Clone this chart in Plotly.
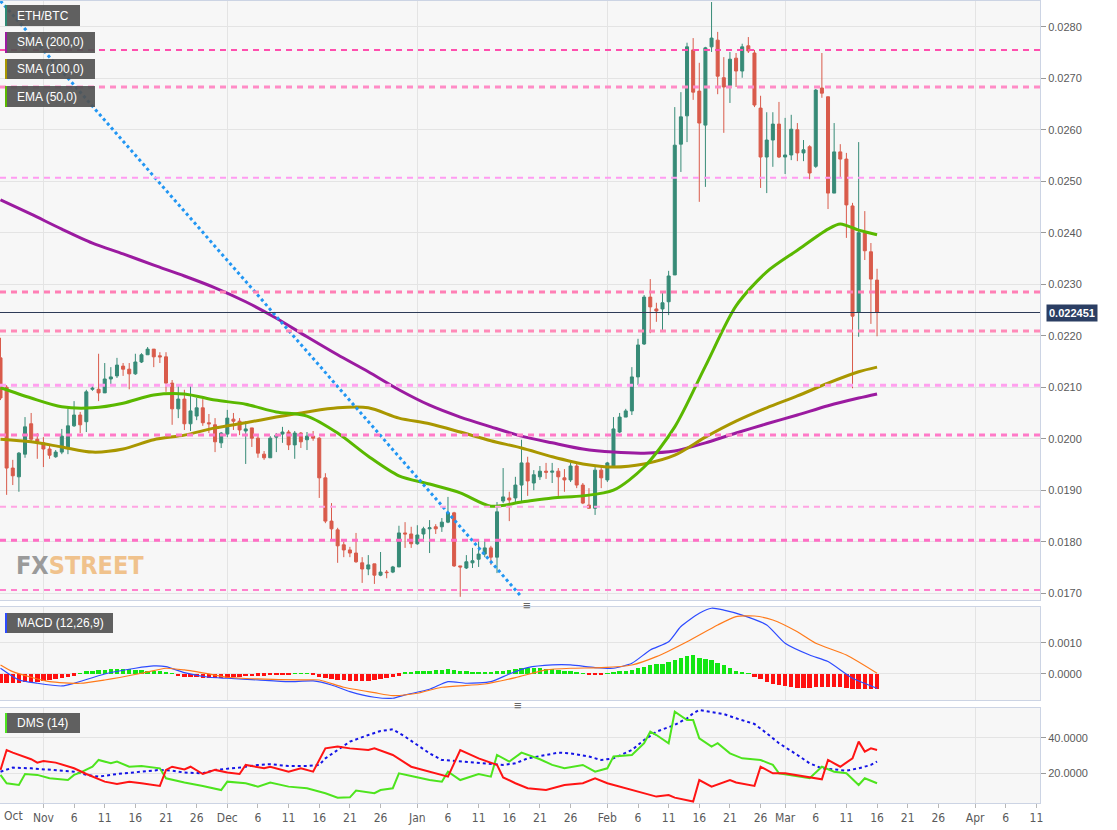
import pandas as pd
import plotly.graph_objects as go
from plotly.subplots import make_subplots

# ---------------------------------------------------------------
# Données ETH/BTC journalières (25 oct. 2019 -> 16 mars 2020)
# ---------------------------------------------------------------
dates = pd.date_range("2019-10-25", periods=144, freq="D")

open_ = [
    0.02157, 0.02100, 0.01943, 0.01926, 0.01970, 0.02029, 0.01999, 0.01992, 0.01980, 0.01965,
    0.01974, 0.01982, 0.02025, 0.02046, 0.02033, 0.02096, 0.02096, 0.02089, 0.02116, 0.02122,
    0.02141, 0.02135, 0.02126, 0.02149, 0.02163, 0.02174, 0.02161, 0.02159, 0.02108, 0.02058,
    0.02077, 0.02029, 0.02044, 0.02060, 0.02031, 0.02027, 0.01992, 0.02009, 0.02038, 0.02034,
    0.02015, 0.02021, 0.02001, 0.01970, 0.01963, 0.02003, 0.02009, 0.02013, 0.01988, 0.02011,
    0.01998, 0.02005, 0.02001, 0.01924, 0.01840, 0.01823, 0.01794, 0.01784, 0.01778, 0.01759,
    0.01747, 0.01757, 0.01735, 0.01741, 0.01741, 0.01751, 0.01817, 0.01815, 0.01796, 0.01815,
    0.01825, 0.01829, 0.01829, 0.01838, 0.01856, 0.01753, 0.01749, 0.01759, 0.01766, 0.01776,
    0.01788, 0.01770, 0.01879, 0.01885, 0.01885, 0.01910, 0.01953, 0.01914, 0.01926, 0.01937,
    0.01935, 0.01937, 0.01924, 0.01920, 0.01947, 0.01910, 0.01871, 0.01865, 0.01939, 0.01920,
    0.01947, 0.02013, 0.02042, 0.02054, 0.02120, 0.02184, 0.02275, 0.02252, 0.02252, 0.02266,
    0.02318, 0.02572, 0.02627, 0.02755, 0.02675, 0.02609, 0.02761, 0.02774, 0.02701, 0.02683,
    0.02739, 0.02714, 0.02763, 0.02749, 0.02642, 0.02547, 0.02580, 0.02611, 0.02547, 0.02551,
    0.02600, 0.02555, 0.02567, 0.02529, 0.02681, 0.02664, 0.02477, 0.02557, 0.02543, 0.02452,
    0.02246, 0.02400, 0.02363, 0.02308,
]
high = [
    0.02196, 0.02104, 0.01959, 0.01974, 0.02042, 0.02050, 0.02011, 0.02003, 0.01990, 0.01978,
    0.02019, 0.02058, 0.02073, 0.02052, 0.02095, 0.02104, 0.02165, 0.02147, 0.02139, 0.02157,
    0.02147, 0.02147, 0.02165, 0.02166, 0.02178, 0.02174, 0.02168, 0.02168, 0.02114, 0.02104,
    0.02095, 0.02106, 0.02079, 0.02077, 0.02048, 0.02040, 0.02013, 0.02056, 0.02050, 0.02040,
    0.02034, 0.02021, 0.02007, 0.01976, 0.02005, 0.02011, 0.02023, 0.02017, 0.02015, 0.02013,
    0.02013, 0.02015, 0.02003, 0.01933, 0.01875, 0.01827, 0.01800, 0.01790, 0.01817, 0.01770,
    0.01774, 0.01757, 0.01780, 0.01745, 0.01753, 0.01831, 0.01838, 0.01829, 0.01832, 0.01829,
    0.01842, 0.01834, 0.01846, 0.01887, 0.01858, 0.01753, 0.01774, 0.01788, 0.01805, 0.01803,
    0.01792, 0.01877, 0.01943, 0.01897, 0.01926, 0.01998, 0.01965, 0.01939, 0.01947, 0.01953,
    0.01953, 0.01943, 0.01941, 0.01953, 0.01951, 0.01914, 0.01904, 0.01945, 0.01945, 0.01955,
    0.02042, 0.02050, 0.02058, 0.02139, 0.02194, 0.02279, 0.02310, 0.02264, 0.02283, 0.02326,
    0.02644, 0.02673, 0.02769, 0.02778, 0.02730, 0.02761, 0.02848, 0.02790, 0.02741, 0.02751,
    0.02749, 0.02767, 0.02780, 0.02755, 0.02666, 0.02634, 0.02634, 0.02654, 0.02623, 0.02629,
    0.02613, 0.02580, 0.02570, 0.02679, 0.02749, 0.02664, 0.02613, 0.02572, 0.02555, 0.02458,
    0.02576, 0.02442, 0.02380, 0.02330,
]
low = [
    0.02075, 0.01891, 0.01910, 0.01897, 0.01963, 0.01992, 0.01961, 0.01945, 0.01961, 0.01963,
    0.01970, 0.01970, 0.02023, 0.02011, 0.02013, 0.02093, 0.02073, 0.02089, 0.02104, 0.02118,
    0.02122, 0.02096, 0.02124, 0.02147, 0.02163, 0.02139, 0.02147, 0.02091, 0.02027, 0.02040,
    0.02017, 0.02015, 0.02036, 0.02025, 0.02011, 0.01974, 0.01982, 0.02003, 0.02017, 0.02007,
    0.01951, 0.01984, 0.01963, 0.01959, 0.01963, 0.01974, 0.01992, 0.01978, 0.01961, 0.01982,
    0.01978, 0.01996, 0.01885, 0.01836, 0.01803, 0.01759, 0.01770, 0.01770, 0.01759, 0.01720,
    0.01735, 0.01718, 0.01733, 0.01729, 0.01739, 0.01751, 0.01788, 0.01788, 0.01794, 0.01800,
    0.01778, 0.01815, 0.01819, 0.01836, 0.01751, 0.01693, 0.01747, 0.01749, 0.01751, 0.01770,
    0.01755, 0.01739, 0.01875, 0.01840, 0.01877, 0.01877, 0.01889, 0.01900, 0.01920, 0.01922,
    0.01914, 0.01887, 0.01897, 0.01916, 0.01904, 0.01873, 0.01865, 0.01852, 0.01904, 0.01916,
    0.01945, 0.02011, 0.02042, 0.02046, 0.02104, 0.02182, 0.02205, 0.02227, 0.02211, 0.02240,
    0.02318, 0.02518, 0.02576, 0.02658, 0.02460, 0.02489, 0.02751, 0.02669, 0.02594, 0.02652,
    0.02683, 0.02701, 0.02749, 0.02644, 0.02487, 0.02477, 0.02528, 0.02545, 0.02514, 0.02541,
    0.02539, 0.02539, 0.02504, 0.02526, 0.02662, 0.02446, 0.02477, 0.02506, 0.02390, 0.02098,
    0.02198, 0.02347, 0.02223, 0.02199,
]
close = [
    0.02079, 0.01943, 0.01928, 0.01972, 0.02023, 0.01999, 0.01994, 0.01980, 0.01968, 0.01974,
    0.02005, 0.02025, 0.02046, 0.02027, 0.02091, 0.02098, 0.02089, 0.02116, 0.02120, 0.02143,
    0.02135, 0.02126, 0.02149, 0.02163, 0.02174, 0.02159, 0.02159, 0.02108, 0.02058, 0.02077,
    0.02029, 0.02054, 0.02060, 0.02031, 0.02029, 0.01994, 0.02011, 0.02040, 0.02034, 0.02017,
    0.02019, 0.02001, 0.01972, 0.01963, 0.02001, 0.02007, 0.02013, 0.01988, 0.02011, 0.01994,
    0.02005, 0.02001, 0.01924, 0.01840, 0.01825, 0.01792, 0.01784, 0.01778, 0.01761, 0.01747,
    0.01755, 0.01735, 0.01741, 0.01740, 0.01751, 0.01817, 0.01815, 0.01796, 0.01813, 0.01825,
    0.01827, 0.01825, 0.01838, 0.01856, 0.01753, 0.01751, 0.01761, 0.01763, 0.01776, 0.01788,
    0.01770, 0.01858, 0.01887, 0.01881, 0.01910, 0.01953, 0.01918, 0.01930, 0.01937, 0.01935,
    0.01937, 0.01926, 0.01920, 0.01947, 0.01910, 0.01875, 0.01865, 0.01939, 0.01924, 0.01953,
    0.02019, 0.02042, 0.02054, 0.02120, 0.02182, 0.02275, 0.02256, 0.02248, 0.02264, 0.02316,
    0.02570, 0.02625, 0.02761, 0.02673, 0.02613, 0.02759, 0.02778, 0.02704, 0.02683, 0.02737,
    0.02714, 0.02761, 0.02753, 0.02648, 0.02547, 0.02580, 0.02611, 0.02547, 0.02551, 0.02601,
    0.02555, 0.02561, 0.02516, 0.02677, 0.02671, 0.02477, 0.02557, 0.02543, 0.02454, 0.02238,
    0.02400, 0.02365, 0.02310, 0.022451,
]
last_price = 0.022451

# Moyennes mobiles (index de jour)
ma_idx = [0, 5, 10, 15, 20, 25, 30, 35, 40, 45, 50, 55, 60, 65, 70, 75, 80, 85, 90, 95,
          100, 105, 110, 115, 120, 125, 130, 135, 140, 143]
sma200 = [0.02464, 0.02436, 0.02407, 0.02380, 0.02359, 0.02337, 0.02316, 0.02293, 0.02266, 0.02234,
          0.02198, 0.02163, 0.02130, 0.02095, 0.02065, 0.02042, 0.02023, 0.02005, 0.01992, 0.01980,
          0.01974, 0.01972, 0.01976, 0.01992, 0.02011, 0.02029, 0.02046, 0.02064, 0.02079, 0.02087]
sma100 = [0.01999, 0.01994, 0.01984, 0.01974, 0.01980, 0.01998, 0.02007, 0.02021, 0.02031, 0.02042,
          0.02052, 0.02060, 0.02060, 0.02040, 0.02029, 0.02013, 0.01996, 0.01982, 0.01965, 0.01951,
          0.01945, 0.01951, 0.01968, 0.02003, 0.02034, 0.02060, 0.02083, 0.02108, 0.02130, 0.02139]
ema_idx = [0, 5, 10, 15, 20, 25, 30, 35, 40, 45, 50, 55, 60, 65, 70, 75, 80, 85, 90, 95,
           100, 105, 110, 115, 120, 125, 130, 135, 137, 140, 143]
ema50 = [0.02099, 0.02079, 0.02062, 0.02060, 0.02069, 0.02085, 0.02087, 0.02075, 0.02067, 0.02052,
         0.02044, 0.02011, 0.01966, 0.01928, 0.01912, 0.01895, 0.01869, 0.01877, 0.01885, 0.01889,
         0.01900, 0.01945, 0.02023, 0.02141, 0.02258, 0.02324, 0.02366, 0.02407, 0.02417, 0.02405,
         0.02396]

# Ligne de tendance (pointillés bleus)
trend_dates = ["2019-10-25", "2020-01-18"]
trend_vals = [0.02850, 0.01693]

# Niveaux horizontaux (support / résistance)
levels = [0.02755, 0.02683, 0.02507, 0.02285, 0.02209, 0.02104, 0.02007, 0.01868, 0.01803, 0.01706]
level_colors = ["#ff4fae", "#ff8cc6", "#ff9cf2", "#ff7fb5", "#ff8ab8",
                "#ffa0ee", "#ff7ac8", "#ffa5e3", "#ff6ec5", "#ff80cc"]
level_widths = [2, 3, 2, 3, 3, 3, 3, 2, 3, 2]

# MACD (12,26,9)
macd_idx = [0, 3, 6, 10, 12, 17, 22, 25, 27, 30, 34, 37, 42, 47, 51, 54, 57, 61, 64, 66, 70, 73,
            76, 80, 83, 86, 90, 93, 97, 100, 103, 106, 109, 111, 114, 116, 118, 121, 125, 128,
            132, 135, 139, 143]
macd_line = [1.84e-4, -1.94e-4, -3.0e-4, -3.87e-4, -3.0e-4, 0.0, 1.84e-4, 2.58e-4, 2.35e-4, 0.42e-4,
             -1.06e-4, -1.39e-4, -1.94e-4, -2.48e-4, -2.26e-4, -3.55e-4, -5.71e-4, -7.52e-4,
             -7.84e-4, -6.77e-4, -4.94e-4, -2.48e-4, -3.0e-4, -2.48e-4, 0.0, 2.03e-4, 2.9e-4,
             2.9e-4, 2.03e-4, 1.84e-4, 3.45e-4, 7.74e-4, 10.4e-4, 15.3e-4, 19.6e-4, 21.2e-4,
             20.6e-4, 19.0e-4, 15.8e-4, 9.9e-4, 6.1e-4, 4.0e-4, -1.39e-4, -4.61e-4]
signal_idx = [0, 2, 5, 8, 13, 17, 23, 27, 30, 34, 37, 42, 49, 52, 56, 61, 64, 68, 72, 79, 84, 89,
              93, 98, 103, 107, 112, 117, 120, 123, 126, 130, 133, 138, 143]
signal_line = [2.9e-4, 0.74e-4, -1.06e-4, -2.48e-4, -3.0e-4, -1.94e-4, 0.23e-4, 1.84e-4, 1.29e-4,
               0.0, -1.06e-4, -1.61e-4, -1.94e-4, -1.94e-4, -4.29e-4, -6.03e-4, -7.0e-4,
               -6.23e-4, -4.29e-4, -3.23e-4, -1.19e-4, 1.29e-4, 1.84e-4, 2.03e-4, 2.9e-4, 5.58e-4,
               10.4e-4, 15.8e-4, 18.5e-4, 18.7e-4, 17.4e-4, 13.6e-4, 9.9e-4, 6.1e-4, 0.23e-4]
# histogramme, en unités de 1e-4
hist_e4 = [
    -2.8, -2.8, -2.8, -2.8, -2.7, -2.6, -2.5, -2.3, -2.0, -1.7, -1.4, -1.0, -0.6,
    0.3, 0.8, 1.0, 1.2, 1.4, 1.5, 1.6, 1.6, 1.5, 1.4, 1.3, 1.1, 1.0, 0.9, 0.6, 0.3,
    -0.8, -0.9, -1.0, -1.1, -1.2, -1.2, -1.3, -1.3, -1.2, -1.1, -1.0, -0.8, -0.7, -0.6, -0.5,
    -0.4, -0.3, -0.2, -0.1,
    0.1, 0.2, 0.1,
    -0.2, -1.0, -1.4, -1.7, -1.9, -2.1, -2.3, -2.4, -2.4, -2.3, -2.0, -1.6, -1.2, -0.9, -0.5,
    0.4, 0.6, 0.8, 1.0, 1.1, 1.2, 1.3, 1.5, 1.2, 1.0, 0.8, 0.7, 0.6, 0.5, 0.5, 0.8, 1.0, 1.3,
    1.6, 1.8, 2.0, 1.9, 1.8, 1.6, 1.5, 1.3, 1.0, 0.8, 0.5, 0.2,
    -0.3, -0.3, -0.2,
    0.2, 0.6, 0.8, 1.0, 1.2, 1.8, 2.4, 2.9, 3.1, 3.3, 3.8, 4.4, 5.0, 5.8, 6.2, 5.0, 4.7, 4.4,
    3.5, 2.8, 1.8, 1.0, 0.5, 0.1,
    -1.0, -1.6, -2.7, -3.2, -3.7, -4.0, -4.3, -4.5, -4.5, -4.5, -4.3, -4.1, -4.1, -4.1, -4.2,
    -4.4, -4.8, -4.8, -4.7, -4.8, -4.8,
]

# DMS (14)
plus_idx = [0, 1, 3, 4, 6, 8, 11, 12, 13, 15, 16, 18, 19, 21, 23, 26, 27, 30, 33, 36, 37, 40, 42,
            44, 47, 50, 53, 55, 57, 58, 61, 62, 64, 65, 67, 70, 72, 73, 75, 78, 80, 81, 83, 85, 88,
            90, 92, 95, 97, 99, 100, 103, 105, 106, 107, 109, 110, 112, 113, 114, 116, 117, 119,
            121, 124, 126, 127, 130, 132, 134, 136, 138, 140, 141, 143]
plus_di = [19.1, 14.4, 13.4, 19.6, 19.1, 17.2, 16.2, 19.1, 20.4, 23.7, 27.5, 25.6, 26.6, 23.7, 24.1,
           22.8, 17.2, 14.8, 12.9, 10.6, 15.3, 14.4, 12.5, 14.8, 12.5, 11.6, 8.8, 6.3, 6.5, 10.3,
           8.8, 10.6, 11.6, 20.0, 18.5, 16.2, 15.3, 20.9, 16.2, 19.6, 18.1, 30.3, 26.6, 31.6, 27.9,
           24.7, 22.8, 24.7, 20.9, 22.8, 29.4, 30.3, 36.9, 43.4, 41.5, 36.9, 54.6, 49.9, 49.9, 39.7,
           35.0, 36.9, 31.2, 28.4, 27.5, 24.7, 20.0, 18.1, 17.2, 23.7, 20.9, 20.0, 13.4, 17.2, 14.4]
minus_idx = [0, 1, 2, 5, 6, 7, 9, 12, 14, 17, 19, 21, 23, 26, 27, 28, 30, 31, 33, 35, 37, 39, 40,
             43, 44, 47, 49, 51, 53, 55, 57, 60, 61, 64, 67, 70, 73, 75, 78, 81, 82, 84, 86, 89, 92,
             95, 97, 99, 102, 105, 107, 109, 110, 113, 114, 116, 119, 120, 123, 124, 126, 128, 132,
             134, 135, 137, 139, 140, 141, 142, 143]
minus_di = [21.9, 33.1, 31.6, 27.9, 26.0, 26.9, 26.0, 22.8, 19.6, 15.3, 14.0, 15.3, 14.4, 12.9, 21.9,
            23.7, 22.2, 23.7, 19.6, 21.9, 20.4, 19.6, 24.7, 22.8, 23.7, 20.9, 22.8, 20.9, 34.0, 35.0,
            34.0, 33.1, 34.0, 30.3, 23.7, 20.9, 18.1, 33.1, 28.4, 24.7, 17.7, 14.4, 11.6, 10.6, 13.4,
            14.4, 17.2, 14.4, 11.6, 8.8, 6.9, 7.8, 6.3, 4.1, 16.2, 12.5, 16.2, 14.8, 12.9, 23.7,
            20.0, 20.0, 17.7, 16.6, 27.5, 23.7, 28.4, 37.8, 32.2, 34.0, 33.1]
adx_idx = [0, 2, 5, 7, 9, 12, 14, 16, 19, 21, 23, 26, 28, 30, 33, 35, 39, 42, 44, 47, 50, 52, 53, 55,
           57, 60, 62, 64, 66, 68, 70, 72, 75, 78, 82, 84, 86, 89, 91, 93, 96, 98, 100, 103, 105,
           107, 110, 112, 113, 114, 116, 118, 120, 123, 125, 127, 130, 132, 134, 137, 138, 140,
           142, 143]
adx = [20.9, 23.2, 22.8, 22.2, 21.9, 20.9, 19.1, 18.1, 19.6, 20.4, 20.9, 21.9, 21.5, 20.4, 20.0,
       21.9, 23.2, 24.7, 25.1, 24.1, 24.1, 24.7, 28.4, 33.1, 37.8, 41.5, 43.8, 44.7, 40.6, 35.9,
       31.2, 27.5, 26.6, 25.6, 24.7, 25.6, 28.4, 30.3, 31.6, 31.2, 29.4, 27.5, 28.4, 33.1, 38.7,
       43.4, 47.2, 50.9, 53.7, 55.6, 54.6, 53.3, 50.9, 47.7, 42.5, 36.9, 30.3, 25.6, 22.8, 21.9,
       21.5, 22.8, 24.7, 26.6]

# Axe des dates ("Oct" est posé à part, au bord gauche)
month_starts = ["2019-11-01", "2019-12-01", "2020-01-01", "2020-02-01", "2020-03-01", "2020-04-01"]
tick_dates = ["2019-11-01", "2019-11-06", "2019-11-11", "2019-11-16", "2019-11-21",
              "2019-11-26", "2019-12-01", "2019-12-06", "2019-12-11", "2019-12-16", "2019-12-21",
              "2019-12-26", "2020-01-01", "2020-01-06", "2020-01-11", "2020-01-16", "2020-01-21",
              "2020-01-26", "2020-02-01", "2020-02-06", "2020-02-11", "2020-02-16", "2020-02-21",
              "2020-02-26", "2020-03-01", "2020-03-06", "2020-03-11", "2020-03-16", "2020-03-21",
              "2020-03-26", "2020-04-01", "2020-04-06", "2020-04-11"]
tick_text = ["Nov", "6", "11", "16", "21", "26", "Dec", "6", "11", "16", "21", "26",
             "Jan", "6", "11", "16", "21", "26", "Feb", "6", "11", "16", "21", "26",
             "Mar", "6", "11", "16", "21", "26", "Apr", "6", "11"]

# ---------------------------------------------------------------
# Style
# ---------------------------------------------------------------
W, H = 1117, 830
M_T, M_B, M_R = 1, 27, 77
PW, PH = W - M_R, H - M_T - M_B

UP, DOWN = "#378b77", "#d95b4b"
GRID = "#e4e4e4"
BORDER = "#ccd4e4"
NARROW = "Liberation Sans Narrow, DejaVu Sans Condensed, Arial Narrow, sans-serif"
TICKFONT = dict(family="Liberation Sans, Arial, sans-serif", size=11, color="#5a5a5a")
XTICKFONT = dict(family=NARROW, size=12, color="#5a5a5a")


def px_x(x):
    return x / PW


def px_y(y):
    return 1 - (y - M_T) / PH


def pick(idx):
    return [dates[i] for i in idx]


fig = make_subplots(rows=3, cols=1, shared_xaxes=True, vertical_spacing=0.01)

# --- panneau prix
fig.add_trace(go.Candlestick(
    x=dates, open=open_, high=high, low=low, close=close,
    increasing=dict(line=dict(color=UP, width=1), fillcolor=UP),
    decreasing=dict(line=dict(color=DOWN, width=1), fillcolor=DOWN),
    whiskerwidth=0, showlegend=False,
), row=1, col=1)

for idx, vals, color in [(ma_idx, sma200, "#9b1ba0"),
                         (ma_idx, sma100, "#a99700"),
                         (ema_idx, ema50, "#5ab800")]:
    fig.add_trace(go.Scatter(
        x=pick(idx), y=vals, mode="lines",
        line=dict(color=color, width=3, shape="spline", smoothing=0.8),
        showlegend=False, hoverinfo="skip",
    ), row=1, col=1)

fig.add_trace(go.Scatter(
    x=trend_dates, y=trend_vals, mode="lines",
    line=dict(color="#2196f3", width=3, dash="3px,3px"),
    showlegend=False, hoverinfo="skip",
), row=1, col=1)

for lv, c, w in zip(levels, level_colors, level_widths):
    fig.add_hline(y=lv, line=dict(color=c, width=w, dash="6px,5px"), row=1, col=1)

fig.add_hline(y=last_price, line=dict(color="#2d3b57", width=1), row=1, col=1)

# --- panneau MACD
fig.add_trace(go.Bar(
    x=dates, y=[h * 1e-4 for h in hist_e4],
    marker=dict(color=["#12e612" if h >= 0 else "#ff1010" for h in hist_e4], line_width=0),
    width=0.72 * 86400000, showlegend=False, hoverinfo="skip",
), row=2, col=1)
fig.add_trace(go.Scatter(x=pick(macd_idx), y=macd_line, mode="lines",
                         line=dict(color="#2d4bff", width=1.2, shape="spline", smoothing=0.6),
                         showlegend=False), row=2, col=1)
fig.add_trace(go.Scatter(x=pick(signal_idx), y=signal_line, mode="lines",
                         line=dict(color="#ff7a1a", width=1.2, shape="spline", smoothing=0.6),
                         showlegend=False), row=2, col=1)

# --- panneau DMS
fig.add_trace(go.Scatter(x=pick(adx_idx), y=adx, mode="lines",
                         line=dict(color="#1414e6", width=2, dash="3px,3px"),
                         showlegend=False), row=3, col=1)
fig.add_trace(go.Scatter(x=pick(plus_idx), y=plus_di, mode="lines",
                         line=dict(color="#4ee41e", width=2), showlegend=False), row=3, col=1)
fig.add_trace(go.Scatter(x=pick(minus_idx), y=minus_di, mode="lines",
                         line=dict(color="#ff1414", width=2), showlegend=False), row=3, col=1)

# --- axes
x_range = ["2019-10-24 22:00", "2020-04-11 14:00"]
for r in (1, 2, 3):
    fig.update_xaxes(
        row=r, col=1, range=x_range, rangeslider_visible=False,
        tickmode="array", tickvals=tick_dates, ticktext=tick_text,
        showticklabels=(r == 3), ticks="outside" if r == 3 else "",
        ticklen=4, tickcolor="#b8b8b8", tickfont=XTICKFONT,
        showgrid=False, zeroline=False,
        minor=dict(tickmode="array", tickvals=month_starts, showgrid=True,
                   gridcolor=GRID, gridwidth=1, ticks=""),
        showline=True, mirror=True, linecolor=BORDER, linewidth=1,
    )

common_y = dict(side="right", ticks="outside", ticklen=5, tickcolor="#999",
                tickfont=TICKFONT, showgrid=True, gridcolor=GRID, zeroline=False,
                showline=True, mirror=True, linecolor=BORDER, linewidth=1)
fig.update_yaxes(row=1, col=1, range=[0.016868, 0.02850], dtick=0.001, tick0=0,
                 tickformat=".4f", **common_y)
fig.update_yaxes(row=2, col=1, range=[-0.00084, 0.00216], tickmode="array",
                 tickvals=[0, 0.001], tickformat=".4f", **common_y)
fig.update_yaxes(row=3, col=1, range=[3.3, 56.7], tickmode="array",
                 tickvals=[20, 40], tickformat=".4f", **common_y)

fig.update_layout(
    width=W, height=H,
    margin=dict(l=0, r=M_R, t=M_T, b=M_B),
    paper_bgcolor="white", plot_bgcolor="#f7f7f7",
    showlegend=False, bargap=0,
    yaxis=dict(domain=[px_y(600), px_y(1)]),
    yaxis2=dict(domain=[px_y(700), px_y(607)]),
    yaxis3=dict(domain=[px_y(803), px_y(708)]),
)

# libellé "Oct" au bord gauche de l'axe des dates
fig.add_annotation(xref="paper", yref="paper", x=px_x(2), y=px_y(807), xanchor="left",
                   yanchor="top", showarrow=False, text="Oct", font=XTICKFONT)

# --- étiquettes d'indicateurs (boîtes grises)
boxes = [
    ("ETH/BTC", 5, 80, 5, 26, "#2e8a74"),
    ("SMA (200,0)", 5, 95, 32, 53, "#9b1ba0"),
    ("SMA (100,0)", 5, 95, 59, 79, "#a99700"),
    ("EMA (50,0)", 5, 95, 86, 107, "#5ab800"),
    ("MACD (12,26,9)", 5, 113, 613, 633, "#2d4bff"),
    ("DMS (14)", 5, 80, 713, 733, "#4ee41e"),
]
for text, x0, x1, y0, y1, bar in boxes:
    fig.add_shape(type="rect", xref="paper", yref="paper",
                  x0=px_x(x0), x1=px_x(x1), y0=px_y(y1), y1=px_y(y0),
                  fillcolor="rgba(82,82,82,0.92)", line_width=0, layer="above")
    fig.add_shape(type="rect", xref="paper", yref="paper",
                  x0=px_x(x0), x1=px_x(x0 + 2), y0=px_y(y1), y1=px_y(y0),
                  fillcolor=bar, line_width=0, layer="above")
    fig.add_annotation(xref="paper", yref="paper", x=px_x(x0 + 10), y=px_y((y0 + y1) / 2),
                       xanchor="left", yanchor="middle", showarrow=False, text=text,
                       font=dict(family="Liberation Sans, Arial, sans-serif", size=12, color="white"))

# étiquette du dernier prix
fig.add_annotation(xref="paper", yref="y", x=1, y=last_price, xanchor="left", xshift=6,
                   showarrow=False, text="<b>0.022451</b>", bgcolor="#2b3e63",
                   borderpad=2, font=dict(family="Liberation Sans, Arial, sans-serif", size=11,
                                          color="white"))

# filigrane
fig.add_annotation(xref="paper", yref="paper", x=px_x(14), y=px_y(565), xanchor="left",
                   yanchor="middle", showarrow=False,
                   text="<b><span style='color:#9a9a9a'>FX</span>"
                        "<span style='color:#f0c28c'>STREET</span></b>",
                   font=dict(family=NARROW, size=25))

# poignées entre panneaux
for x, y in [(527, 604), (518, 704)]:
    fig.add_annotation(xref="paper", yref="paper", x=px_x(x), y=px_y(y), yanchor="middle",
                       yshift=-1, showarrow=False, text="≡", font=dict(size=13, color="#666"))

# la page HTML par défaut ajoute une marge de 8 px au <body> : on l'annule
fig.write_html("out.html", config={"displayModeBar": False},
               post_script="document.body.style.margin='0';")
